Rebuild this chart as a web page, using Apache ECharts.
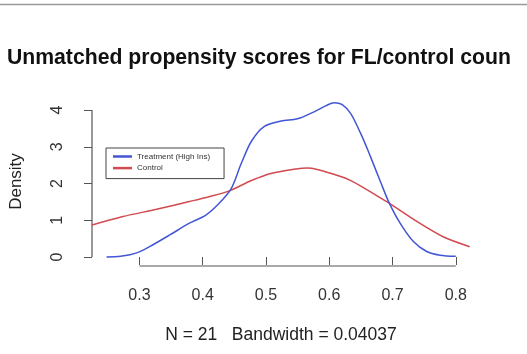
<!DOCTYPE html>
<html>
<head>
<meta charset="utf-8">
<script src="https://cdn.jsdelivr.net/npm/echarts@6/dist/echarts.min.js"></script>
<style>
  html, body { margin: 0; padding: 0; background: #fff; }
  #chart { width: 527px; height: 354px; }
</style>
</head>
<body>
<div id="chart"></div>
<script>
// Kernel density estimates of propensity scores
const treatX = [0.248, 0.27, 0.285, 0.30, 0.316, 0.348, 0.379, 0.405, 0.426, 0.445, 0.461, 0.477, 0.497, 0.524, 0.55, 0.576, 0.595, 0.608, 0.62, 0.634, 0.65, 0.66, 0.681, 0.694, 0.712, 0.733, 0.754, 0.775, 0.8];
const treatY = [0.00, 0.02, 0.06, 0.14, 0.28, 0.60, 0.92, 1.14, 1.46, 1.86, 2.55, 3.15, 3.55, 3.70, 3.76, 3.95, 4.12, 4.20, 4.15, 3.90, 3.35, 2.95, 2.05, 1.50, 0.92, 0.42, 0.15, 0.05, 0.02];

const controlX = [0.225, 0.274, 0.327, 0.379, 0.41, 0.442, 0.477, 0.508, 0.55, 0.565, 0.581, 0.618, 0.634, 0.65, 0.694, 0.739, 0.78, 0.822];
const controlY = [0.87, 1.10, 1.30, 1.51, 1.64, 1.80, 2.08, 2.27, 2.40, 2.42, 2.38, 2.19, 2.08, 1.93, 1.47, 0.96, 0.55, 0.28];

const xTicks = [0.3, 0.4, 0.5, 0.6, 0.7, 0.8];
const yTicks = [0, 1, 2, 3, 4];

const seriesNames = ['Treatment (High Ins)', 'Control'];
const titleText = 'Unmatched propensity scores for FL/control coun';
const subText = 'N = 21   Bandwidth = 0.04037';

// plotting window (R-style padding around the data)
const xMin = 0.225, xMax = 0.8225;
const yMin = -0.245, yMax = 4.354;

const zip = (xs, ys) => xs.map((x, i) => [x, ys[i]]);
const FONT = 'Liberation Sans, Arial, Helvetica, sans-serif';
const AXIS = '#555';

const chart = echarts.init(document.getElementById('chart'), null, { renderer: 'canvas' });

chart.setOption({
  animation: false,
  backgroundColor: '#fff',
  title: {
    text: titleText,
    left: 7,
    top: 48,
    padding: 0,
    textStyle: { fontFamily: FONT, fontSize: 21.2, fontWeight: 'bold', color: '#111' }
  },
  graphic: [{
    type: 'line',
    shape: { x1: 0, y1: 4.5, x2: 527, y2: 4.5 },
    style: { stroke: '#9a9a9a', lineWidth: 1.5 },
    silent: true
  }],
  legend: {
    data: seriesNames,
    orient: 'vertical',
    left: 106,
    top: 148,
    padding: [4, 14, 6, 7],
    itemGap: 2.6,
    itemWidth: 19,
    itemHeight: 2.5,
    icon: 'rect',
    borderColor: '#444',
    borderWidth: 1,
    textStyle: { fontFamily: FONT, fontSize: 8, color: '#333', lineHeight: 9 }
  },
  grid: { left: 90, right: 57, top: 97, bottom: 88, containLabel: false },
  xAxis: {
    type: 'value',
    min: xMin,
    max: xMax,
    splitLine: { show: false },
    axisLine: { show: false },
    axisTick: {
      show: true, customValues: xTicks, length: 8,
      lineStyle: { color: AXIS, width: 1 }
    },
    axisLabel: {
      customValues: xTicks, margin: 22,
      fontFamily: FONT, fontSize: 16, color: '#333',
      formatter: v => v.toFixed(1)
    },
    name: subText,
    nameLocation: 'middle',
    nameGap: 60,
    nameTextStyle: { fontFamily: FONT, fontSize: 17.5, color: '#222' }
  },
  yAxis: {
    type: 'value',
    min: yMin,
    max: yMax,
    splitLine: { show: false },
    axisLine: { show: false },
    axisTick: {
      show: true, customValues: yTicks, length: 8,
      lineStyle: { color: AXIS, width: 1 }
    },
    axisLabel: {
      customValues: yTicks, margin: 26, rotate: 90,
      fontFamily: FONT, fontSize: 16, color: '#333',
      formatter: v => String(v)
    },
    name: 'Density',
    nameLocation: 'middle',
    nameRotate: 90,
    nameGap: 67,
    nameTextStyle: { fontFamily: FONT, fontSize: 17, color: '#222' }
  },
  series: [
    {
      name: seriesNames[0],
      type: 'line',
      data: zip(treatX, treatY),
      showSymbol: false,
      smooth: 0.3,
      clip: true,
      lineStyle: { color: '#4356d6', width: 1.5 },
      itemStyle: { color: '#4356d6' },
      z: 3
    },
    {
      name: seriesNames[1],
      type: 'line',
      data: zip(controlX, controlY),
      showSymbol: false,
      smooth: 0.3,
      clip: true,
      lineStyle: { color: '#d24a50', width: 1.5 },
      itemStyle: { color: '#d24a50' },
      z: 2
    },
    // R-style axis lines spanning only the tick range
    {
      name: 'y-axis line',
      type: 'line',
      data: [[xMin, yTicks[0]], [xMin, yTicks[yTicks.length - 1]]],
      showSymbol: false,
      silent: true,
      clip: false,
      lineStyle: { color: AXIS, width: 1.2 },
      z: 1
    },
    {
      name: 'x-axis line',
      type: 'line',
      data: [[xTicks[0], yMin], [xTicks[xTicks.length - 1], yMin]],
      showSymbol: false,
      silent: true,
      clip: false,
      lineStyle: { color: AXIS, width: 1.2 },
      z: 1
    }
  ]
});
</script>
</body>
</html>
